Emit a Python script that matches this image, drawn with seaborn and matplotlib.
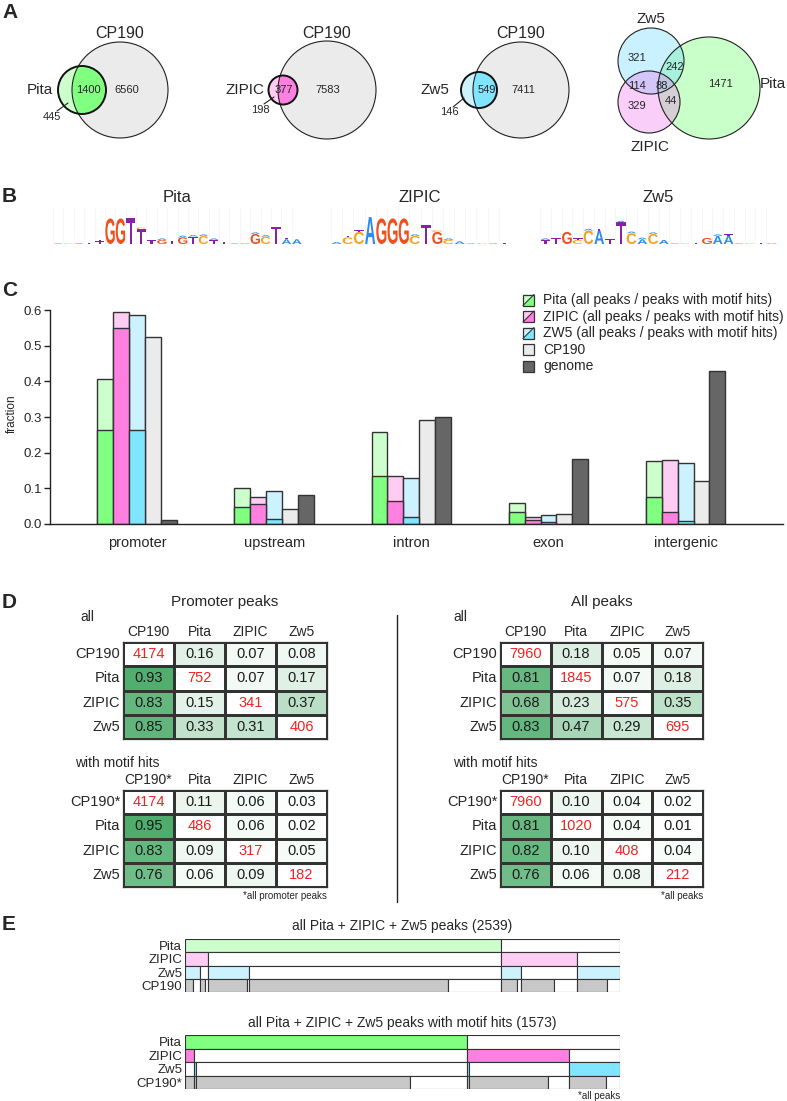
import numpy as np
import pandas as pd
import matplotlib
matplotlib.use("Agg")
import matplotlib.pyplot as plt
import seaborn as sns
from matplotlib import font_manager
from matplotlib.patches import Circle, Polygon, PathPatch, Rectangle
from matplotlib.textpath import TextPath
from matplotlib.font_manager import FontProperties
from matplotlib.transforms import Affine2D
from matplotlib.colors import LinearSegmentedColormap

# ---------------- data ----------------
# A: pairwise overlaps with CP190 (factor only, shared, CP190 only)
VENN_FACTORS = ["Pita", "ZIPIC", "Zw5"]
VENN_ONLY = [445, 198, 146]
VENN_SHARED = [1400, 377, 549]
VENN_CP190_ONLY = [6560, 7583, 7411]
# A: triple overlap Zw5 / ZIPIC / Pita
VENN3_REGIONS = ["Zw5", "Zw5+Pita", "Zw5+ZIPIC", "all", "Pita", "ZIPIC", "ZIPIC+Pita"]
VENN3_COUNTS = [321, 242, 114, 88, 1471, 329, 44]

# B: motif logos (top letter per position, its height in bits, small letter on top)
PITA_LETTERS = "ACATTGGTTTGTGTCTTAGGCTAA"
PITA_BITS = [.05, .05, .06, .1, .2, 1.9, 1.9, 1.9, 1.1, .3, .3, .25, .5, .55, .6, .3, .15, .05, .05, .75, .55, 1.3, .35, .35]
PITA_HATS = "....T...C.A.AAAA...AA.T."
ZIPIC_LETTERS = "ACCAGGGCTGCAACAT"
ZIPIC_BITS = [.15, .5, .9, 2.0, 1.9, 1.9, 1.9, .6, 1.4, .9, .3, .2, .05, .05, .05, .05]
ZIPIC_HATS = ".TT....A.CA....."
ZW5_LETTERS = "TTGCCATTCACAACTGAAACTG"
ZW5_BITS = [.3, .45, .9, .3, 1.0, 1.0, .35, 1.6, .8, .35, .75, .3, .05, .05, .05, .45, .6, .6, .05, .05, .05, .05]
ZW5_HATS = "A..TAT.AAAA.....AT...."
HAT_BITS = 0.12

# C: genomic distribution
REGIONS = ["promoter", "upstream", "intron", "exon", "intergenic"]
SETS = ["Pita", "ZIPIC", "Zw5", "CP190", "genome"]
FRAC_ALL = {
    "Pita":   [0.408, 0.102, 0.257, 0.060, 0.177],
    "ZIPIC":  [0.594, 0.077, 0.135, 0.019, 0.179],
    "Zw5":    [0.585, 0.093, 0.130, 0.024, 0.171],
    "CP190":  [0.525, 0.041, 0.291, 0.028, 0.120],
    "genome": [0.010, 0.081, 0.301, 0.181, 0.430],
}
FRAC_MOTIF = {
    "Pita":  [0.263, 0.048, 0.135, 0.033, 0.077],
    "ZIPIC": [0.551, 0.056, 0.065, 0.010, 0.033],
    "Zw5":   [0.263, 0.013, 0.020, 0.005, 0.008],
}

# D: overlap tables (diagonal = number of peaks)
NAMES = ["CP190", "Pita", "ZIPIC", "Zw5"]
NAMES_STAR = ["CP190*", "Pita", "ZIPIC", "Zw5"]
PROM_ALL_N = [4174, 752, 341, 406]
PROM_ALL = [[None, .16, .07, .08], [.93, None, .07, .17], [.83, .15, None, .37], [.85, .33, .31, None]]
PROM_MOTIF_N = [4174, 486, 317, 182]
PROM_MOTIF = [[None, .11, .06, .03], [.95, None, .06, .02], [.83, .09, None, .05], [.76, .06, .09, None]]
PEAKS_ALL_N = [7960, 1845, 575, 695]
PEAKS_ALL = [[None, .18, .05, .07], [.81, None, .07, .18], [.68, .23, None, .35], [.83, .47, .29, None]]
PEAKS_MOTIF_N = [7960, 1020, 408, 212]
PEAKS_MOTIF = [[None, .10, .04, .02], [.81, None, .04, .01], [.82, .10, None, .04], [.76, .06, .08, None]]

# E: peak groups (Pita+ZIPIC+Zw5, Pita+ZIPIC, Pita+Zw5, Pita, ZIPIC+Zw5, ZIPIC, Zw5)
E_MEMBERS = {"Pita":  [1, 1, 1, 1, 0, 0, 0],
             "ZIPIC": [1, 1, 0, 0, 1, 1, 0],
             "Zw5":   [1, 0, 1, 0, 1, 0, 1]}
E_ALL_GROUPS = [88, 44, 242, 1471, 114, 329, 251]
E_ALL_CP190 = [45, 30, 228, 1161, 90, 194, 173]
E_MOTIF_GROUPS = [0, 34, 7, 979, 8, 359, 186]
E_MOTIF_CP190 = [0, 34, 7, 772, 8, 283, 135]

# ---------------- style ----------------
W, H = 787, 1101
sns.set_style("white")
plt.rcParams['font.family'] = ['Liberation Sans', 'DejaVu Sans']
names_installed = {f.name for f in font_manager.fontManager.ttflist}
NARROW = 'Liberation Sans Narrow' if 'Liberation Sans Narrow' in names_installed else 'Liberation Sans'

LIGHT = {'Pita': '#ccffcc', 'ZIPIC': '#ffccf3', 'Zw5': '#ccf2ff', 'CP190': '#ebebeb', 'genome': '#666666'}
DARK = {'Pita': '#80ff80', 'ZIPIC': '#ff80e0', 'Zw5': '#80e5ff', 'CP190': '#ebebeb', 'genome': '#666666'}
EDGE = '#333333'
LOGO_COL = {'A': '#2b8cee', 'C': '#f5a21e', 'G': '#f04f1e', 'T': '#8a1fa8'}
GREENS = LinearSegmentedColormap.from_list('gr', ['#ffffff', '#45a865'])
RED = '#ee2424'

fig = plt.figure(figsize=(W / 100, H / 100), dpi=100)


def px_axes(x0, y0, x1, y1):
    return fig.add_axes([x0 / W, 1 - y1 / H, (x1 - x0) / W, (y1 - y0) / H])


# ---------------- B: logos ----------------
fp = FontProperties(family='Liberation Sans', weight='bold')


def put_letter(ax, ch, x, y, h):
    tp = TextPath((0, 0), ch, size=1, prop=fp)
    bb = tp.get_extents()
    tr = Affine2D().translate(-bb.x0, -bb.y0).scale(0.9 / bb.width, h / bb.height).translate(x + 0.05, y)
    ax.add_patch(PathPatch(tr.transform_path(tp), fc=LOGO_COL[ch], ec='none'))


def draw_logo(rect, letters, bits, hats):
    ax = px_axes(*rect)
    n = len(letters)
    for i in range(n + 1):
        ax.axvline(i, color='#f3f3f3', lw=0.5, zorder=0)
    for i, (ch, b, hat) in enumerate(zip(letters, bits, hats)):
        put_letter(ax, ch, i, 0, b)
        if hat != '.':
            put_letter(ax, hat, i, b, HAT_BITS)
    ax.set_xlim(0, n)
    ax.set_ylim(0, 2.75)
    ax.axis('off')


draw_logo((53, 207, 302, 244), PITA_LETTERS, PITA_BITS, PITA_HATS)
draw_logo((331, 207, 510, 244), ZIPIC_LETTERS, ZIPIC_BITS, ZIPIC_HATS)
draw_logo((540, 207, 777, 244), ZW5_LETTERS, ZW5_BITS, ZW5_HATS)

# ---------------- C: bar chart ----------------
axc = px_axes(50, 303, 783, 524)
df_all = pd.DataFrame([(r, s, v) for s in SETS for r, v in zip(REGIONS, FRAC_ALL[s])],
                      columns=['region', 'set', 'fraction'])
df_mot = pd.DataFrame([(r, s, v) for s in FRAC_MOTIF for r, v in zip(REGIONS, FRAC_MOTIF[s])],
                      columns=['region', 'set', 'fraction'])
common = dict(x='region', y='fraction', hue='set', hue_order=SETS, order=REGIONS, width=0.58, gap=0,
              saturation=1, errorbar=None, legend=False, edgecolor=EDGE, linewidth=1, ax=axc)
sns.barplot(data=df_all, palette=LIGHT, **common)
sns.barplot(data=df_mot, palette=DARK, **common)
axc.set_xlim(-0.635, 4.71)
axc.set_ylim(0, 0.62)
axc.set_yticks(np.arange(0, 0.61, 0.1))
axc.set_yticklabels([f"{v:.1f}" for v in np.arange(0, 0.61, 0.1)])
sns.despine(ax=axc)
axc.spines['left'].set_bounds(0, 0.6)
for s in ('left', 'bottom'):
    axc.spines[s].set_color('#222222')
    axc.spines[s].set_linewidth(1)
axc.tick_params(axis='y', length=4, width=1, labelsize=9.5, pad=2, left=True, color='#222222')
axc.tick_params(axis='x', length=0, labelsize=10.5, pad=9)
axc.set_xlabel('')
axc.set_ylabel('fraction', fontsize=8.5)
axc.yaxis.set_label_coords(-0.044, 0.5)
axc.set_facecolor('none')

# ---------------- D: overlap tables ----------------


def overlap_table(rect, counts, frac, names):
    ax = px_axes(*rect)
    vals = np.array([[0.0 if v is None else v for v in row] for row in frac])
    labels = np.array([[str(counts[i]) if v is None else f"{v:.2f}" for v in row] for i, row in enumerate(frac)])
    df = pd.DataFrame(vals, index=names, columns=names)
    sns.heatmap(df, annot=labels, fmt='', cmap=GREENS, vmin=0, vmax=1, cbar=False,
                linewidths=0.8, linecolor=EDGE, ax=ax, annot_kws=dict(fontsize=10.5, color='#1a1a1a'))
    for i in range(len(names)):
        ax.texts[i * len(names) + i].set_color(RED)
    ax.xaxis.tick_top()
    ax.set_xticklabels(names, rotation=0, fontsize=10)
    ax.set_yticklabels(names, rotation=0, fontsize=10.5)
    ax.tick_params(length=0, pad=2)
    ax.set_xlabel('')
    ax.set_ylabel('')
    for s in ax.spines.values():
        s.set_visible(True)
        s.set_linewidth(0.9)
        s.set_color(EDGE)


overlap_table((123, 642, 327, 739), PROM_ALL_N, PROM_ALL, NAMES)
overlap_table((123, 790, 327, 887), PROM_MOTIF_N, PROM_MOTIF, NAMES_STAR)
overlap_table((500, 642, 703, 739), PEAKS_ALL_N, PEAKS_ALL, NAMES)
overlap_table((500, 790, 703, 887), PEAKS_MOTIF_N, PEAKS_MOTIF, NAMES_STAR)

# ---------------- E: peak tracks ----------------


def peak_tracks(rect, groups, cp190, colours, cp_label):
    ax = px_axes(*rect)
    kw = dict(height=1, edgecolor=EDGE, linewidth=0.8)
    for r, name in enumerate(["Pita", "ZIPIC", "Zw5"]):
        runs = []
        for n, f in zip(groups, E_MEMBERS[name]):
            if n == 0:
                continue
            if runs and runs[-1][1] == f:
                runs[-1][0] += n
            else:
                runs.append([n, f])
        left = 0
        for n, f in runs:
            ax.barh(r, n, left=left, color=colours[name] if f else 'white', **kw)
            left += n
    left = 0
    for n, b in zip(groups, cp190):
        for w, c in ((b, '#c8c8c8'), (n - b, 'white')):
            if w > 0:
                ax.barh(3, w, left=left, color=c, **kw)
            left += w
    ax.set_xlim(0, sum(groups))
    ax.set_ylim(3.5, -0.5)
    ax.set_yticks(range(4))
    ax.set_yticklabels(["Pita", "ZIPIC", "Zw5", cp_label], fontsize=9.5, family=NARROW)
    ax.set_xticks([])
    ax.tick_params(length=0, pad=2)
    for s in ax.spines.values():
        s.set_visible(False)


peak_tracks((185, 939, 620, 992), E_ALL_GROUPS, E_ALL_CP190, LIGHT, "CP190")
peak_tracks((185, 1035, 620, 1089), E_MOTIF_GROUPS, E_MOTIF_CP190, DARK, "CP190*")

# ---------------- canvas: Venns, legend, labels ----------------
cv = fig.add_axes([0, 0, 1, 1], zorder=10)
cv.set_xlim(0, W)
cv.set_ylim(H, 0)
cv.axis('off')


def txt(x, y, s, ha='center', va='center', **kw):
    cv.text(x, y, s, ha=ha, va=va, **kw)


for lab, y in zip("ABCDE", (13, 197, 290, 602, 925)):
    txt(2, y, lab, ha='left', fontsize=15, fontweight='bold')

# pairwise Venns: (CP190 x, CP190 r, factor x, factor r, label x, only-count xy, leader line, shared x, cp-only x)
VLAYOUT = [(120, 48, 82, 24, 40, (52, 117), ((57, 111), (68, 103)), 88, 127),
           (327, 49, 283, 14.5, 245, (260, 110), ((264, 104), (274, 97)), 284, 328),
           (521, 48, 479, 18, 435, (449, 112), ((453, 107), (464, 98)), 487, 523)]
cy = 90
for name, only, shared, cponly, (cpx, cpr, fx, fr, lx, oxy, line, sx, cx) in zip(
        VENN_FACTORS, VENN_ONLY, VENN_SHARED, VENN_CP190_ONLY, VLAYOUT):
    cp = Circle((cpx, cy), cpr, fc='#ebebeb', ec='none')
    cv.add_patch(cp)
    cv.add_patch(Circle((fx, cy), fr, fc=LIGHT[name], ec='none'))
    inner = Circle((fx, cy), fr, fc=DARK[name], ec='none')
    cv.add_patch(inner)
    inner.set_clip_path(cp)
    cv.add_patch(Circle((cpx, cy), cpr, fc='none', ec='#222222', lw=0.8))
    cv.add_patch(Circle((fx, cy), fr, fc='none', ec='#111111', lw=1.4))
    txt(cpx, 33, "CP190", fontsize=11.5)
    txt(lx, cy, name, fontsize=11)
    txt(sx, cy, str(shared), fontsize=8)
    txt(cx, cy, str(cponly), fontsize=8)
    txt(oxy[0], oxy[1], str(only), fontsize=8)
    cv.plot([line[0][0], line[1][0]], [line[0][1], line[1][1]], color='#222222', lw=0.8)

# three-way Venn
V3_CIRCLES = [((709, 88, 51), '#66ff66'), ((651, 61, 33), '#66d9ff'), ((649, 102, 31), '#ee77ee')]
for (x, y, r), col in V3_CIRCLES:
    cv.add_patch(Circle((x, y), r, fc=col, alpha=0.35, ec='none'))
for (x, y, r), col in V3_CIRCLES:
    cv.add_patch(Circle((x, y), r, fc='none', ec='#222222', lw=0.8))
txt(651, 19, "Zw5", fontsize=11)
txt(650, 147, "ZIPIC", fontsize=11)
txt(786, 84, "Pita", ha='right', fontsize=11)
for (x, y), n in zip([(637, 58), (675, 67), (637, 86), (662, 86), (720, 84), (637, 106), (671, 101)], VENN3_COUNTS):
    txt(x, y, str(n), fontsize=8)

# B titles
for x, t in ((177, "Pita"), (420, "ZIPIC"), (658, "Zw5")):
    txt(x, 197, t, fontsize=12)

# C legend
LEG_TEXT = ["Pita (all peaks / peaks with motif hits)", "ZIPIC (all peaks / peaks with motif hits)",
            "ZW5 (all peaks / peaks with motif hits)", "CP190", "genome"]
for i, (name, t) in enumerate(zip(SETS, LEG_TEXT)):
    yc = 300 + i * 16.5
    x0, x1, y0, y1 = 523, 534, yc - 5.5, yc + 5.5
    if name in FRAC_MOTIF:
        cv.add_patch(Polygon([(x0, y0), (x1, y0), (x0, y1)], fc=LIGHT[name], ec='none'))
        cv.add_patch(Polygon([(x1, y0), (x1, y1), (x0, y1)], fc=DARK[name], ec='none'))
        cv.plot([x0, x1], [y1, y0], color=EDGE, lw=0.8)
    else:
        cv.add_patch(Rectangle((x0, y0), 11, 11, fc=LIGHT[name], ec='none'))
    cv.add_patch(Rectangle((x0, y0), 11, 11, fc='none', ec=EDGE, lw=0.9))
    txt(543, yc, t, ha='left', fontsize=10, family=NARROW)

# D titles
txt(225, 602, "Promoter peaks", fontsize=11)
txt(602, 602, "All peaks", fontsize=11)
for x in (80, 453):
    txt(x, 617, "all", ha='left', fontsize=10)
for x in (75, 453):
    txt(x, 763, "with motif hits", ha='left', fontsize=10)
txt(327, 896, "*all promoter peaks", ha='right', fontsize=7, family=NARROW)
txt(703, 896, "*all peaks", ha='right', fontsize=7, family=NARROW)
cv.plot([397, 397], [615, 902], color='#222222', lw=1)

# E titles
txt(402, 926, "all Pita + ZIPIC + Zw5 peaks (2539)", fontsize=10, family=NARROW)
txt(402, 1023, "all Pita + ZIPIC + Zw5 peaks with motif hits (1573)", fontsize=10, family=NARROW)
txt(620, 1096, "*all peaks", ha='right', fontsize=7, family=NARROW)

fig.savefig("out.png", dpi=100)
